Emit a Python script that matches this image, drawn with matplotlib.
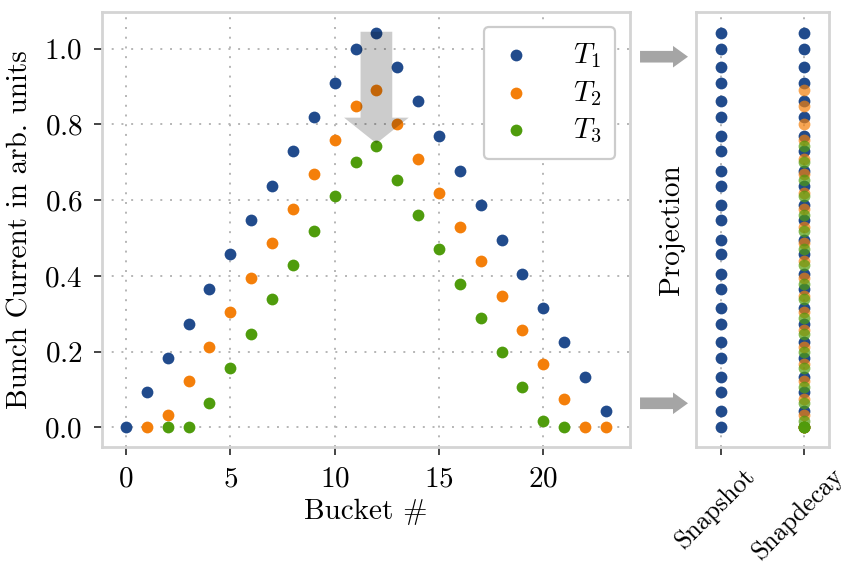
import matplotlib
matplotlib.use("Agg")
import matplotlib.pyplot as plt
from matplotlib.patches import FancyArrow
from matplotlib.transforms import ScaledTranslation

plt.rcParams.update({
    "font.family": "serif",
    "font.serif": ["cmr10"],
    "mathtext.fontset": "cm",
    "axes.formatter.use_mathtext": True,
    "font.size": 10.5,
})

# bunch currents per bucket at three successive times
t1_buckets = list(range(0, 24))
t1_current = [0.0, 0.093, 0.183, 0.274, 0.365, 0.457, 0.547, 0.638, 0.729, 0.82,
              0.91, 1.0, 1.043, 0.953, 0.862, 0.77, 0.678, 0.587, 0.496, 0.406,
              0.315, 0.224, 0.134, 0.042]
t2_buckets = list(range(1, 24))
t2_current = [0.0, 0.032, 0.122, 0.213, 0.304, 0.395, 0.486, 0.577, 0.668, 0.759,
              0.85, 0.891, 0.80, 0.71, 0.619, 0.529, 0.438, 0.347, 0.257, 0.166,
              0.075, 0.0, 0.0]
t3_buckets = list(range(2, 22))
t3_current = [0.0, 0.0, 0.065, 0.156, 0.247, 0.338, 0.429, 0.519, 0.611, 0.701,
              0.743, 0.652, 0.56, 0.47, 0.378, 0.288, 0.198, 0.107, 0.016, 0.0]

labels = [r"$T_1$", r"$T_2$", r"$T_3$"]
colors = ["#214b8c", "#f47f0a", "#4f9c0c"]
methods = ["Snapshot", "Snapdecay"]

series = [(t1_buckets, t1_current), (t2_buckets, t2_current), (t3_buckets, t3_current)]

fig = plt.figure(figsize=(4.26, 2.85), dpi=200)
ax = fig.add_axes([0.1197, 0.2158, 0.6197, 0.7632])
ax2 = fig.add_axes([0.8166, 0.2158, 0.1565, 0.7632], sharey=ax)

grid_kw = dict(color="#b5b5b5", linestyle=(0, (1, 4)), linewidth=0.7)


def style(a):
    for s in a.spines.values():
        s.set_color("#d4d4d4")
        s.set_linewidth(1.0)
    a.tick_params(length=3, width=0.7, color="#444444", pad=4)
    a.set_axisbelow(True)


for (bx, by), lab, c in zip(series, labels, colors):
    ax.scatter(bx, by, s=18, color=c, linewidths=0, label=lab, zorder=3)

# decay direction marker
ax.add_patch(FancyArrow(12, 1.045, 0, -0.295, width=1.52, head_width=3.1,
                        head_length=0.068, length_includes_head=True,
                        color="k", alpha=0.2, lw=0, zorder=4))

style(ax)
ax.grid(True, **grid_kw)
ax.set_xticks([0, 5, 10, 15, 20])
ax.set_yticks([0.0, 0.2, 0.4, 0.6, 0.8, 1.0])
ax.set_xlabel("Bucket #", labelpad=2)
ax.set_ylabel("Bunch Current in arb. units")
leg = ax.legend(loc="upper right", fontsize=10.5, handlelength=1.2,
                handletextpad=1.35, labelspacing=0.3, borderpad=0.5,
                borderaxespad=0.5, fancybox=True, framealpha=1)
leg.get_frame().set_edgecolor("#cccccc")
leg.get_frame().set_linewidth(0.8)

# projections onto the current axis
ax2.scatter([0] * len(t1_current), t1_current, s=18, color=colors[0],
            linewidths=0, zorder=3)
ax2.scatter([1] * len(t1_current), t1_current, s=18, color=colors[0],
            linewidths=0, zorder=3)
for (bx, by), c in zip(series[1:], colors[1:]):
    ax2.scatter([1] * len(by), by, s=18, color=c, alpha=0.7, linewidths=0, zorder=3)

style(ax2)
ax2.grid(True, axis="x", **grid_kw)
ax2.set_xlim(-0.31, 1.31)
ax2.set_xticks([0, 1])
ax2.set_xticklabels(methods, rotation=45, ha="center", fontsize=9.2)
ax2.tick_params(axis="x", pad=3)
shift = ScaledTranslation(-2.0 / 72, 0, fig.dpi_scale_trans)
for t in ax2.get_xticklabels():
    t.set_transform(t.get_transform() + shift)
ax2.tick_params(axis="y", left=False, labelleft=False)
ax2.set_ylabel("Projection")
ax2.yaxis.set_label_coords(-0.08, 0.5)

# arrows linking the extremes to the projection panel
for y in (0.9005, 0.2925):
    fig.patches.append(FancyArrow(0.7512, y, 0.0563, 0, width=0.0204,
                                  head_width=0.0379, head_length=0.0176,
                                  length_includes_head=True, color="#a5a5a5",
                                  lw=0, transform=fig.transFigure, figure=fig))

fig.savefig("out.png", dpi=200)
